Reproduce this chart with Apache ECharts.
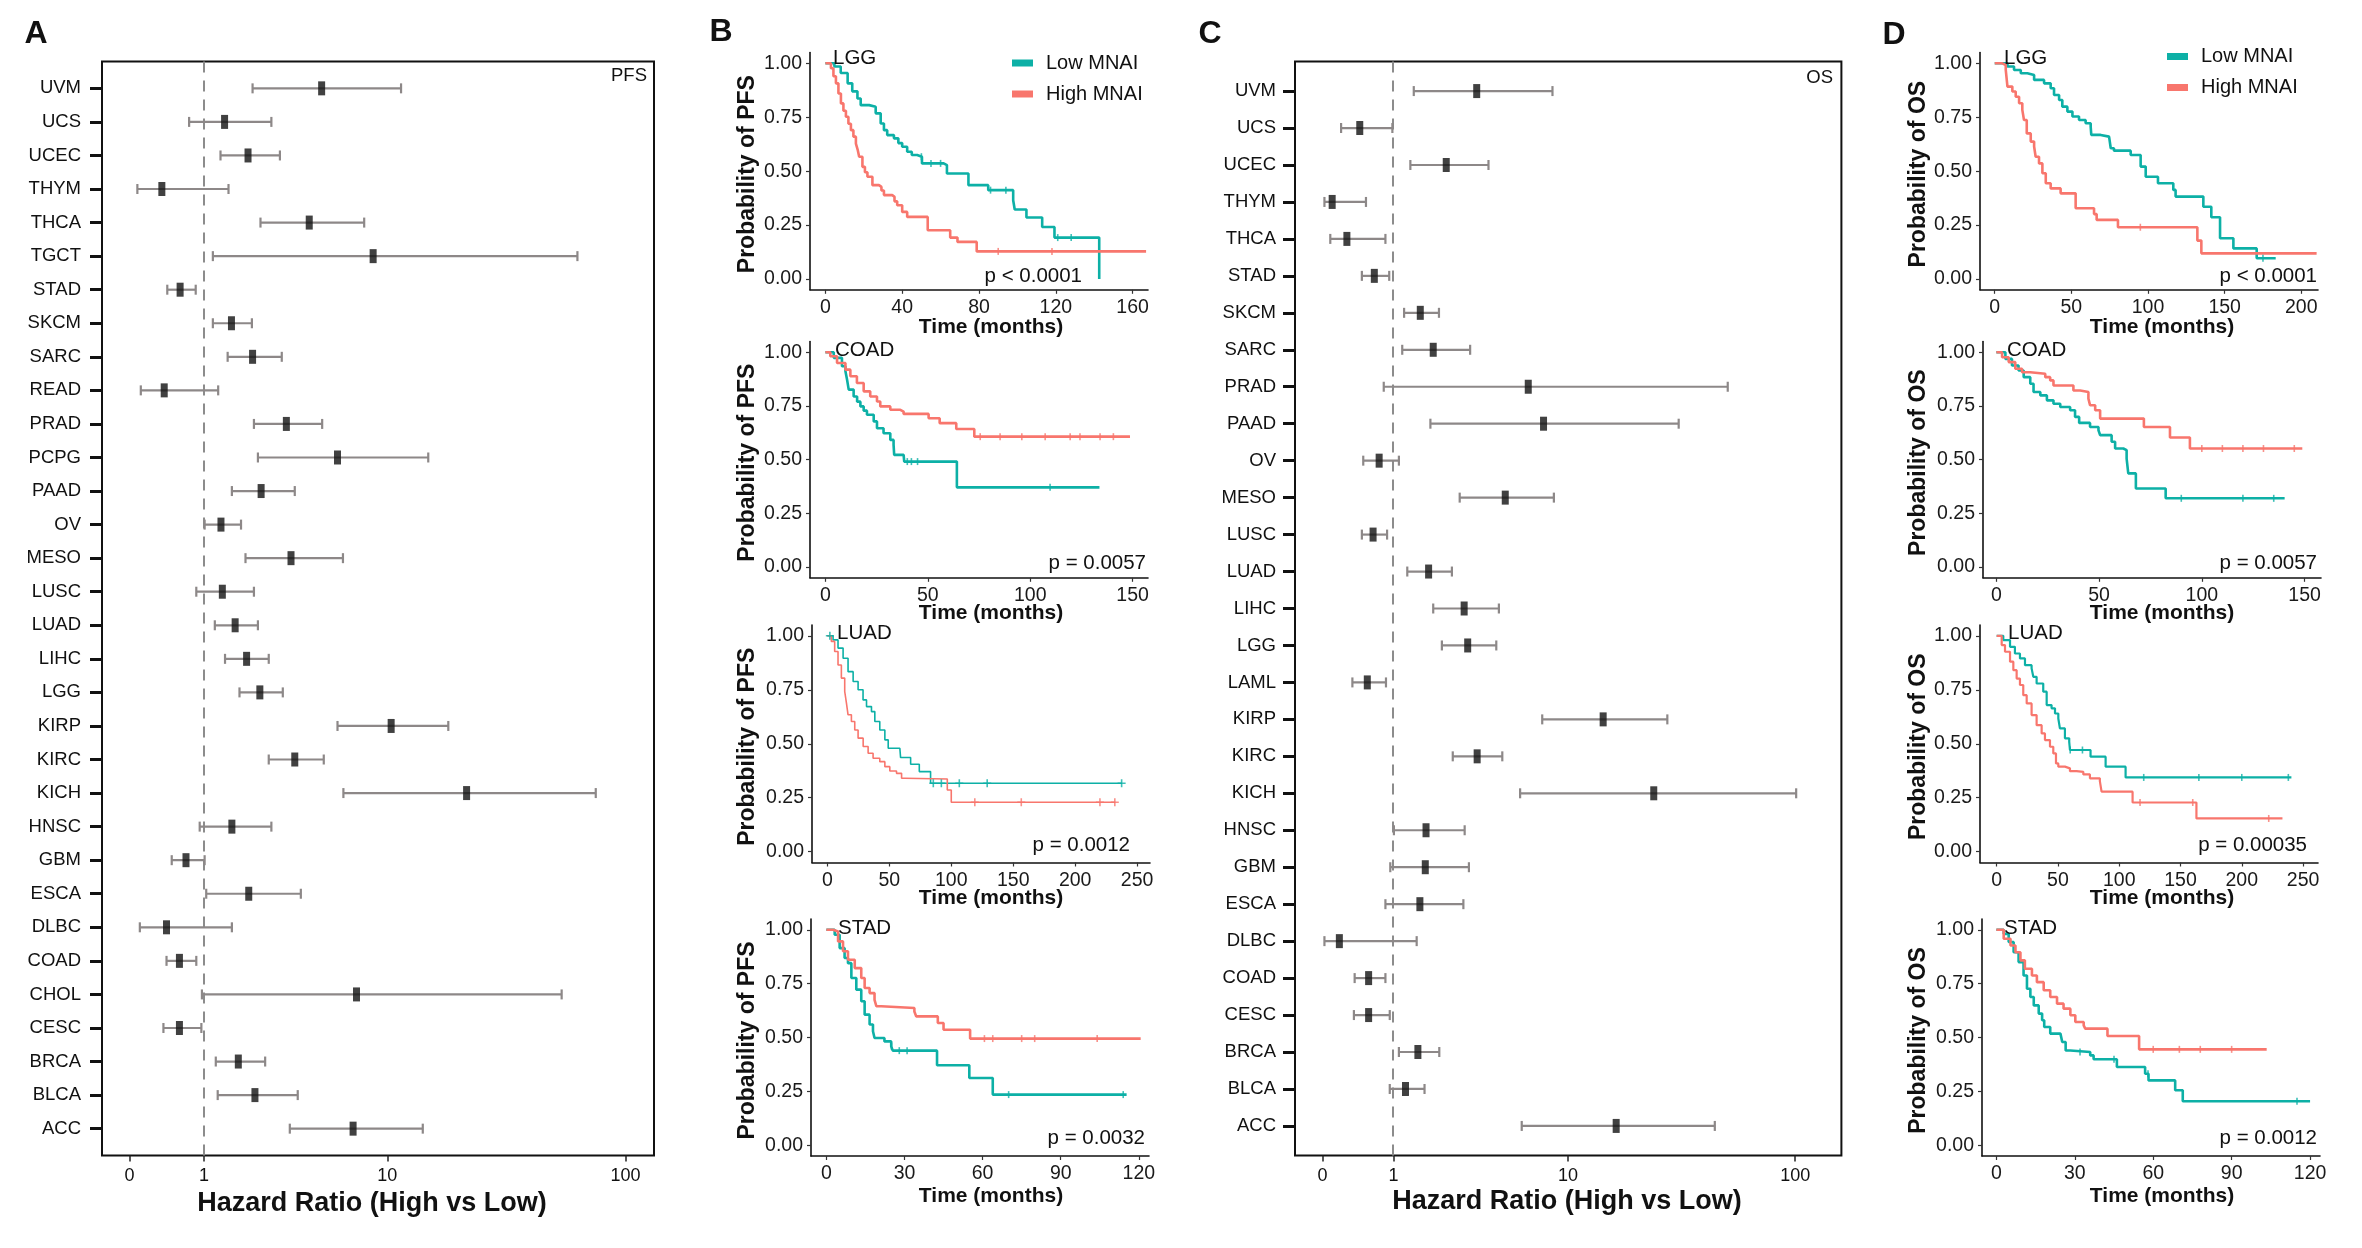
<!DOCTYPE html>
<html>
<head>
<meta charset="utf-8">
<script src="https://cdn.jsdelivr.net/npm/echarts@6.0.0/dist/echarts.min.js"></script>
<style>
html,body{margin:0;padding:0;background:#ffffff;}
#chart{width:2362px;height:1248px;}
</style>
</head>
<body>
<div id="chart"></div>
<script>
// ---------------- DATA ----------------
// Panel A: PFS hazard ratios (High vs Low)
const pfsCancers = ['UVM','UCS','UCEC','THYM','THCA','TGCT','STAD','SKCM','SARC','READ','PRAD','PCPG','PAAD','OV','MESO','LUSC','LUAD','LIHC','LGG','KIRP','KIRC','KICH','HNSC','GBM','ESCA','DLBC','COAD','CHOL','CESC','BRCA','BLCA','ACC'];
const pfsHR   = [4.97,1.42,2.01,0.35,4.32,8.64,0.60,1.58,2.14,0.38,3.30,5.92,2.40,1.34,3.49,1.37,1.67,1.97,2.36,10.4,3.65,22.0,1.59,0.69,2.03,0.41,0.59,7.26,0.59,1.75,2.21,7.00];
const pfsLow  = [2.14,0.74,1.33,0.075,2.38,1.17,0.42,1.17,1.49,0.11,2.18,2.30,1.59,1.01,1.94,0.86,1.21,1.43,1.78,5.92,2.65,6.31,0.92,0.48,1.04,0.10,0.41,0.96,0.37,1.23,1.27,3.44];
const pfsHigh = [11.5,2.74,3.05,1.51,7.87,63.5,0.85,2.12,3.12,1.28,5.00,15.1,3.65,1.82,6.28,2.18,2.30,2.65,3.16,18.4,5.09,75.5,2.74,1.01,3.92,1.59,0.86,54.7,0.95,2.53,3.78,14.3];

// Panel C: OS hazard ratios (High vs Low)
const osCancers = ['UVM','UCS','UCEC','THYM','THCA','STAD','SKCM','SARC','PRAD','PAAD','OV','MESO','LUSC','LUAD','LIHC','LGG','LAML','KIRP','KIRC','KICH','HNSC','GBM','ESCA','DLBC','COAD','CESC','BRCA','BLCA','ACC'];
const osHR   = [3.51,0.44,2.35,0.10,0.27,0.66,1.60,1.95,6.46,7.66,0.74,4.96,0.64,1.82,2.99,3.13,0.55,14.5,3.53,24.4,1.75,1.73,1.59,0.18,0.57,0.57,1.54,1.25,16.6];
const osLow  = [1.44,0.20,1.36,0.02,0.08,0.47,1.22,1.18,0.82,1.87,0.49,2.82,0.47,1.29,1.95,2.21,0.34,7.55,2.57,5.89,1.01,0.94,0.85,0.02,0.37,0.36,1.11,0.93,6.0];
const osHigh = [8.45,0.98,4.06,0.53,0.85,0.92,2.12,3.23,51.3,31.4,1.11,8.58,0.88,2.54,4.60,4.46,0.86,28.0,4.79,101,3.01,3.18,2.96,1.51,0.85,0.93,2.13,1.71,45.1];

const hrTicks = [0, 1, 10, 100];
const survTicks = [0, 0.25, 0.5, 0.75, 1];

// Panel B: PFS Kaplan-Meier curves [months, survival]
const lggPfsLowMNAI = [[0,1],[4.7,0.985],[8,0.955],[11.6,0.907],[14,0.87],[16.7,0.837],[18.4,0.806],[22.8,0.799],[26.2,0.768],[28.8,0.721],[30.5,0.69],[32.2,0.667],[35.7,0.652],[38,0.63],[40,0.613],[42.6,0.59],[45,0.575],[47.8,0.567],[50.3,0.536],[61.6,0.528],[63.3,0.489],[74.5,0.435],[84.8,0.412],[97.8,0.365],[98.6,0.322],[104.7,0.285],[112.9,0.241],[119.3,0.192],[142.6,0.192],[142.6,0]];
const lggPfsHighMNAI = [[0,1],[2.9,0.977],[4.2,0.94],[5.5,0.907],[6.8,0.86],[8.1,0.814],[9.4,0.78],[10.7,0.752],[12,0.72],[13.3,0.69],[14.6,0.66],[15.9,0.628],[16.8,0.6],[17.6,0.567],[19.3,0.52],[20.6,0.495],[21.9,0.474],[24.5,0.435],[27.9,0.427],[29.2,0.41],[30.5,0.389],[34.8,0.381],[36,0.36],[37.4,0.342],[40,0.311],[42.6,0.288],[53.3,0.226],[65,0.192],[68.8,0.172],[78.8,0.128],[167,0.128]];
const coadPfsHighMNAI = [[0,1],[2.4,0.981],[5.7,0.95],[9.8,0.919],[12.2,0.888],[15.4,0.857],[18.7,0.818],[21.9,0.794],[25.2,0.771],[26.8,0.748],[31.7,0.732],[36.6,0.724],[38.2,0.713],[50.4,0.693],[55.8,0.67],[63.9,0.643],[72.7,0.607],[148.7,0.607]];
const coadPfsLowMNAI = [[0,1],[4.1,0.974],[8.1,0.935],[9.8,0.911],[10.6,0.872],[11.4,0.826],[13.8,0.794],[15.5,0.77],[17.1,0.748],[18.7,0.728],[20.3,0.709],[23.6,0.678],[25.2,0.646],[28.4,0.623],[31.7,0.592],[33.3,0.569],[33.6,0.522],[38.2,0.514],[38.5,0.491],[64.2,0.371],[133.8,0.371]];
const luadPfsLowMNAI = [[0,1],[4.6,0.981],[8.6,0.943],[12.7,0.896],[16.7,0.834],[20.8,0.788],[24.8,0.75],[28.8,0.703],[31.6,0.672],[35.6,0.649],[38.3,0.603],[42.3,0.564],[46.4,0.518],[49.1,0.479],[58.5,0.471],[59.1,0.436],[67.2,0.405],[74.2,0.371],[83.3,0.317],[237.9,0.317]];
const luadPfsHighMNAI = [[0,1],[3.2,0.974],[5.9,0.927],[8.6,0.865],[11.3,0.804],[14,0.742],[15.4,0.688],[16.7,0.634],[19.4,0.603],[22.1,0.564],[24.8,0.526],[28.9,0.487],[32.9,0.456],[36.9,0.433],[42.3,0.417],[46.4,0.394],[50.4,0.374],[55.8,0.363],[59.9,0.34],[62.6,0.337],[96.8,0.286],[100,0.229],[232.5,0.229]];
const stadPfsHighMNAI = [[0,1],[2.6,0.992],[4.5,0.946],[6.4,0.9],[8.3,0.861],[10.9,0.822],[13.4,0.776],[14.7,0.73],[16.6,0.706],[18.5,0.675],[19.2,0.645],[21.1,0.637],[33.8,0.621],[34.5,0.598],[42.8,0.567],[45,0.536],[55.2,0.495],[120.7,0.495]];
const stadPfsLowMNAI = [[0,1],[3.2,0.977],[5.1,0.915],[7,0.869],[8.3,0.845],[9.6,0.776],[11.5,0.722],[13.4,0.668],[14.7,0.606],[16.6,0.56],[17.9,0.529],[18.5,0.498],[22.3,0.482],[24.9,0.459],[25.5,0.439],[42.5,0.371],[54.9,0.312],[63.9,0.235],[115.3,0.235]];

// Panel D: OS Kaplan-Meier curves [months, survival]
const lggOsLowMNAI = [[0,1],[8.3,0.985],[12.6,0.969],[17,0.954],[21.3,0.946],[25.7,0.923],[32.2,0.907],[36.5,0.884],[38.7,0.853],[42,0.83],[44.1,0.799],[47.4,0.776],[50.7,0.753],[55,0.737],[59.3,0.722],[62.6,0.706],[63,0.668],[69.1,0.66],[74.6,0.652],[75.7,0.606],[77.8,0.595],[88.7,0.575],[95.2,0.521],[98.5,0.474],[106.5,0.444],[116.5,0.413],[118,0.382],[136.1,0.335],[141.3,0.286],[147,0.189],[155.7,0.142],[170.9,0.096],[183.3,0.096]];
const lggOsHighMNAI = [[0,1],[5,0.992],[7.2,0.969],[8.3,0.892],[11.5,0.869],[13.7,0.845],[15.9,0.815],[18,0.784],[19.1,0.737],[20.9,0.675],[23.5,0.637],[25.7,0.614],[26.7,0.567],[28.9,0.536],[31.1,0.49],[33.3,0.444],[36.5,0.42],[43,0.397],[52.8,0.328],[64.8,0.301],[66.5,0.274],[80.4,0.24],[132.2,0.178],[134.8,0.119],[210,0.119]];
const coadOsHighMNAI = [[0,1],[2.8,0.977],[6,0.954],[9.2,0.923],[12.5,0.907],[16.5,0.9],[23.8,0.884],[26.2,0.869],[27.8,0.845],[37.5,0.822],[40.8,0.815],[44.8,0.784],[45.6,0.753],[48.1,0.73],[50.5,0.691],[71.8,0.652],[84.5,0.603],[94.2,0.552],[148.9,0.552]];
const coadOsLowMNAI = [[0,1],[4.4,0.969],[7.6,0.938],[10.8,0.915],[13.3,0.884],[16.5,0.853],[18.1,0.815],[21.4,0.799],[24.6,0.776],[27.8,0.76],[31.1,0.745],[35.9,0.73],[38.3,0.699],[40.3,0.671],[45.6,0.652],[49.7,0.637],[50.5,0.614],[56.1,0.583],[57.8,0.552],[61.8,0.544],[63.4,0.505],[64.2,0.436],[67.9,0.366],[82.4,0.32],[140.3,0.32]];
const luadOsLowMNAI = [[0,1],[5.4,0.98],[10.9,0.949],[14.9,0.918],[19,0.895],[23.1,0.864],[28.5,0.849],[29.9,0.81],[32.6,0.779],[38,0.741],[40.8,0.679],[44.8,0.664],[47.6,0.64],[50.3,0.617],[51.6,0.571],[55.7,0.525],[59.2,0.509],[59.8,0.471],[76.6,0.44],[88.9,0.394],[105.2,0.344],[240.5,0.344]];
const luadOsHighMNAI = [[0,1],[4.1,0.957],[6.8,0.926],[10.9,0.88],[13.6,0.841],[16.3,0.802],[19,0.772],[21.7,0.725],[24.5,0.687],[28.5,0.633],[32.6,0.586],[36.7,0.548],[39.4,0.517],[43.5,0.486],[46.2,0.455],[48.4,0.409],[50.3,0.394],[55.7,0.386],[59.8,0.373],[65.2,0.37],[70.7,0.358],[76.1,0.34],[84.2,0.327],[85.6,0.278],[110.9,0.228],[163,0.154],[233.2,0.154]];
const stadOsHighMNAI = [[0,1],[2.8,0.958],[5.4,0.927],[7.3,0.896],[9.2,0.858],[10.9,0.819],[13.6,0.788],[15.5,0.757],[18.1,0.719],[20.6,0.688],[23.2,0.657],[25.7,0.634],[28.3,0.603],[30.2,0.572],[33.4,0.556],[34,0.541],[42.5,0.507],[54.6,0.445],[103.4,0.445]];
const stadOsLowMNAI = [[0,1],[2.8,0.981],[4.7,0.943],[6.6,0.896],[8.5,0.85],[10.4,0.788],[11.7,0.726],[13,0.688],[14.3,0.649],[16.2,0.611],[17.5,0.58],[18.3,0.549],[20.6,0.518],[24.5,0.51],[25.2,0.479],[26.5,0.44],[28.3,0.433],[35.9,0.417],[37.2,0.399],[46.1,0.363],[56.9,0.332],[58.2,0.301],[68.4,0.255],[71.3,0.204],[120,0.204]];

// censoring times (months)
const lggPfsLowCens = [50,55,60,86,94,121,128];
const lggPfsHighCens = [90,118];
const coadPfsHighCens = [75.6,85.3,95.9,107.3,119.5,124.3,134.1,140.6];
const coadPfsLowCens = [40,42,45,109.7];
const luadPfsLowCens = [2,85.5,92,106.5,129,237.5];
const luadPfsHighCens = [119,156.5,220,232];
const stadPfsHighCens = [60.7,63.9,75,80,104];
const stadPfsLowCens = [25,28,31,70,114];
const lggOsLowCens = [175];
const lggOsHighCens = [95];
const coadOsHighCens = [100,110,120,130,145];
const coadOsLowCens = [90,120,135];
const luadOsLowCens = [60,70,120,165,200,238];
const luadOsHighCens = [117,160,222];
const stadOsHighCens = [60,70,78,90];
const stadOsLowCens = [32,45,58,115];

const kmLabelsB = ['LGG','COAD','LUAD','STAD'];
const pValsB = ['p < 0.0001','p = 0.0057','p = 0.0012','p = 0.0032'];
const kmLabelsD = ['LGG','COAD','LUAD','STAD'];
const pValsD = ['p < 0.0001','p = 0.0057','p = 0.00035','p = 0.0012'];

// ---------------- BUILD ----------------
const FONT = '"Liberation Sans", Arial, Helvetica, sans-serif';
const TEAL = '#0DB0A6';
const SALMON = '#F8766D';
const lt = v => Math.log10(v + 1);
const hrTickPos = hrTicks.map(lt);

const grids = [], xAxes = [], yAxes = [], series = [];

function addForest(box, cats, hr, lo, hi, xr, labelMargin) {
  const gi = grids.length;
  grids.push({left: box[0], top: box[1], width: box[2], height: box[3], show: true,
    borderColor: '#111', borderWidth: 2, backgroundColor: 'transparent', outerBoundsMode: 'none', containLabel: false});
  xAxes.push({gridIndex: gi, type: 'value', min: xr[0], max: xr[1],
    axisLine: {show: false, onZero: false}, splitLine: {show: false},
    axisTick: {show: true, customValues: hrTickPos, length: 6, lineStyle: {color: '#222', width: 1.5}},
    axisLabel: {customValues: hrTickPos, margin: 12, fontSize: 18, color: '#111', fontFamily: FONT,
      formatter: v => { let b = 0; hrTickPos.forEach((p, i) => { if (Math.abs(p - v) < Math.abs(hrTickPos[b] - v)) b = i; }); return String(hrTicks[b]); }}
  });
  const idx = cats.map((c, i) => i);
  yAxes.push({gridIndex: gi, type: 'value', inverse: true, min: -0.8, max: cats.length - 0.2,
    axisLine: {show: false, onZero: false}, splitLine: {show: false},
    axisTick: {show: true, customValues: idx, length: 12, lineStyle: {color: '#111', width: 3}},
    axisLabel: {customValues: idx, margin: labelMargin, fontSize: 18.5, color: '#111', fontFamily: FONT,
      formatter: v => cats[Math.round(v)]}
  });
  series.push({
    type: 'custom', xAxisIndex: gi, yAxisIndex: gi, silent: true, z: 3,
    data: cats.map((c, i) => [lt(lo[i]), lt(hi[i]), i]),
    encode: {x: [0, 1], y: 2},
    renderItem: (params, api) => {
      const a = api.coord([api.value(0), api.value(2)]);
      const b = api.coord([api.value(1), api.value(2)]);
      const h = 5;
      const st = {stroke: '#8d8888', lineWidth: 2.2};
      return {type: 'group', children: [
        {type: 'line', shape: {x1: a[0], y1: a[1], x2: b[0], y2: b[1]}, style: st},
        {type: 'line', shape: {x1: a[0], y1: a[1] - h, x2: a[0], y2: a[1] + h}, style: st},
        {type: 'line', shape: {x1: b[0], y1: b[1] - h, x2: b[0], y2: b[1] + h}, style: st}
      ]};
    }
  });
  series.push({
    type: 'scatter', xAxisIndex: gi, yAxisIndex: gi, silent: true, z: 5,
    data: hr.map((v, i) => [lt(v), i]),
    symbol: 'rect', symbolSize: [7, 14], itemStyle: {color: '#111'},
    markLine: {silent: true, symbol: ['none', 'none'], z: 1, label: {show: false},
      lineStyle: {type: [11, 8], color: '#8c8c8c', width: 2},
      data: [{xAxis: lt(1)}]}
  });
}

function survAt(curve, t) {
  let s = 1;
  for (const p of curve) { if (p[0] <= t) s = p[1]; else break; }
  return s;
}

const PLUS = 'path://M-1,-5h2v4h4v2h-4v4h-2v-4h-4v-2h4z';

function addKM(box, xr, xticks, low, high, lowCens, highCens, lw, plus) {
  const gi = grids.length;
  grids.push({left: box[0], top: box[1], width: box[2], height: box[3], outerBoundsMode: 'none', containLabel: false});
  xAxes.push({gridIndex: gi, type: 'value', min: xr[0], max: xr[1], splitLine: {show: false},
    axisLine: {show: true, onZero: false, lineStyle: {color: '#111', width: 1.6}},
    axisTick: {show: true, customValues: xticks, length: 4, lineStyle: {color: '#333', width: 1.2}},
    axisLabel: {customValues: xticks, margin: 8, fontSize: 19.5, color: '#1a1a1a', fontFamily: FONT}
  });
  yAxes.push({gridIndex: gi, type: 'value', min: -0.05, max: 1.05, splitLine: {show: false},
    axisLine: {show: true, onZero: false, lineStyle: {color: '#111', width: 1.6}},
    axisTick: {show: true, customValues: survTicks, length: 4, lineStyle: {color: '#333', width: 1.2}},
    axisLabel: {customValues: survTicks, margin: 8, fontSize: 19.5, color: '#1a1a1a', fontFamily: FONT,
      formatter: v => v.toFixed(2)}
  });
  const mk = (name, data, color) => ({name, type: 'line', xAxisIndex: gi, yAxisIndex: gi, data, step: 'end',
    showSymbol: false, symbol: 'none', silent: true, z: 3,
    lineStyle: {color, width: lw}, itemStyle: {color}});
  series.push(mk('Low MNAI', low, TEAL));
  series.push(mk('High MNAI', high, SALMON));
  const cens = (times, curve, color) => ({type: 'scatter', xAxisIndex: gi, yAxisIndex: gi, silent: true, z: 4,
    data: times.map(t => [t, survAt(curve, t)]),
    symbol: plus ? PLUS : 'rect', symbolSize: plus ? 8 : [1.6, 7], itemStyle: {color}});
  series.push(cens(lowCens, low, TEAL));
  series.push(cens(highCens, high, SALMON));
}

// Forest plots
addForest([102, 61.5, 552, 1094], pfsCancers, pfsHR, pfsLow, pfsHigh, [-0.1115, 2.119], 21);
addForest([1295, 61.5, 546.4, 1094], osCancers, osHR, osLow, osHigh, [-0.1162, 2.2004], 19);

// KM rows (top, height)
const rows = [[52.5, 237.3], [341.5, 236.3], [625, 237.5], [919, 237]];
// Panel B
addKM([810, rows[0][0], 338, rows[0][1]], [-8, 168], [0,40,80,120,160], lggPfsLowMNAI, lggPfsHighMNAI, lggPfsLowCens, lggPfsHighCens, 2.6, false);
addKM([810, rows[1][0], 338, rows[1][1]], [-7.5, 157.5], [0,50,100,150], coadPfsLowMNAI, coadPfsHighMNAI, coadPfsLowCens, coadPfsHighCens, 2.6, false);
addKM([812, rows[2][0], 338, rows[2][1]], [-12.4, 260.4], [0,50,100,150,200,250], luadPfsLowMNAI, luadPfsHighMNAI, luadPfsLowCens, luadPfsHighCens, 1.6, true);
addKM([811, rows[3][0], 338, rows[3][1]], [-5.9, 123.9], [0,30,60,90,120], stadPfsLowMNAI, stadPfsHighMNAI, stadPfsLowCens, stadPfsHighCens, 2.6, false);
// Panel D
addKM([1980, rows[0][0], 338, rows[0][1]], [-9.6, 210.9], [0,50,100,150,200], lggOsLowMNAI, lggOsHighMNAI, lggOsLowCens, lggOsHighCens, 2.6, false);
addKM([1983, rows[1][0], 338, rows[1][1]], [-6.5, 158], [0,50,100,150], coadOsLowMNAI, coadOsHighMNAI, coadOsLowCens, coadOsHighCens, 2.6, false);
addKM([1980, rows[2][0], 338, rows[2][1]], [-13.6, 262.2], [0,50,100,150,200,250], luadOsLowMNAI, luadOsHighMNAI, luadOsLowCens, luadOsHighCens, 2.2, false);
addKM([1982, rows[3][0], 338, rows[3][1]], [-5.5, 123.8], [0,30,60,90,120], stadOsLowMNAI, stadOsHighMNAI, stadOsLowCens, stadOsHighCens, 2.6, false);

// ---------------- TEXT ----------------
function T(x, y, text, size, o) {
  o = o || {};
  return {type: 'text', x, y, rotation: o.rot || 0, z: 20, silent: true,
    style: {text, fontSize: size, fontFamily: FONT, fontWeight: o.bold ? 'bold' : 'normal', fill: o.color || '#111',
      textAlign: o.align || 'left', align: o.align || 'left', textVerticalAlign: 'middle', verticalAlign: 'middle'}};
}
const g = [];
g.push(T(36, 34, 'A', 32, {bold: true, align: 'center'}));
g.push(T(721, 32, 'B', 32, {bold: true, align: 'center'}));
g.push(T(1210, 34, 'C', 32, {bold: true, align: 'center'}));
g.push(T(1894, 35, 'D', 32, {bold: true, align: 'center'}));
g.push(T(647, 76, 'PFS', 18.5, {align: 'right'}));
g.push(T(1833, 78, 'OS', 18.5, {align: 'right'}));
g.push(T(372, 1204, 'Hazard Ratio (High vs Low)', 27, {bold: true, align: 'center'}));
g.push(T(1567, 1202, 'Hazard Ratio (High vs Low)', 27, {bold: true, align: 'center'}));

const xTitleY = [327, 613.5, 898.5, 1196];
const labY = [58, 350.5, 633, 928.5];
const pY = [276, 563.5, 845, 1138];
const bLabX = [833, 835, 837, 838];
const dLabX = [2004, 2007, 2008, 2004];
const bPX = [1082, 1146, 1130, 1145];
const dPX = [2317, 2317, 2307, 2317];
for (let i = 0; i < 4; i++) {
  const cy = rows[i][0] + rows[i][1] / 2 + 3;
  g.push(T(748, cy, 'Probability of PFS', 23, {bold: true, align: 'center', rot: Math.PI / 2}));
  g.push(T(1919, cy, 'Probability of OS', 23, {bold: true, align: 'center', rot: Math.PI / 2}));
  g.push(T(991, xTitleY[i], 'Time (months)', 21, {bold: true, align: 'center'}));
  g.push(T(2162, xTitleY[i], 'Time (months)', 21, {bold: true, align: 'center'}));
  g.push(T(bLabX[i], labY[i], kmLabelsB[i], 20.5));
  g.push(T(dLabX[i], labY[i], kmLabelsD[i], 20.5));
  g.push(T(bPX[i], pY[i], pValsB[i], 20.5, {align: 'right'}));
  g.push(T(dPX[i], pY[i], pValsD[i], 20.5, {align: 'right'}));
}

const legendBase = {orient: 'vertical', itemWidth: 21, itemHeight: 7, itemGap: 11, icon: 'rect', padding: 0,
  selectedMode: false, data: ['Low MNAI', 'High MNAI'],
  textStyle: {fontSize: 20, color: '#111', fontFamily: FONT, padding: [0, 0, 0, 8]}};

const chart = echarts.init(document.getElementById('chart'), null, {renderer: 'canvas'});
chart.setOption({
  animation: false,
  backgroundColor: '#ffffff',
  grid: grids,
  xAxis: xAxes,
  yAxis: yAxes,
  series: series,
  legend: [
    Object.assign({}, legendBase, {left: 1012, top: 53}),
    Object.assign({}, legendBase, {left: 2167, top: 46.5})
  ],
  graphic: g
});
</script>
</body>
</html>
